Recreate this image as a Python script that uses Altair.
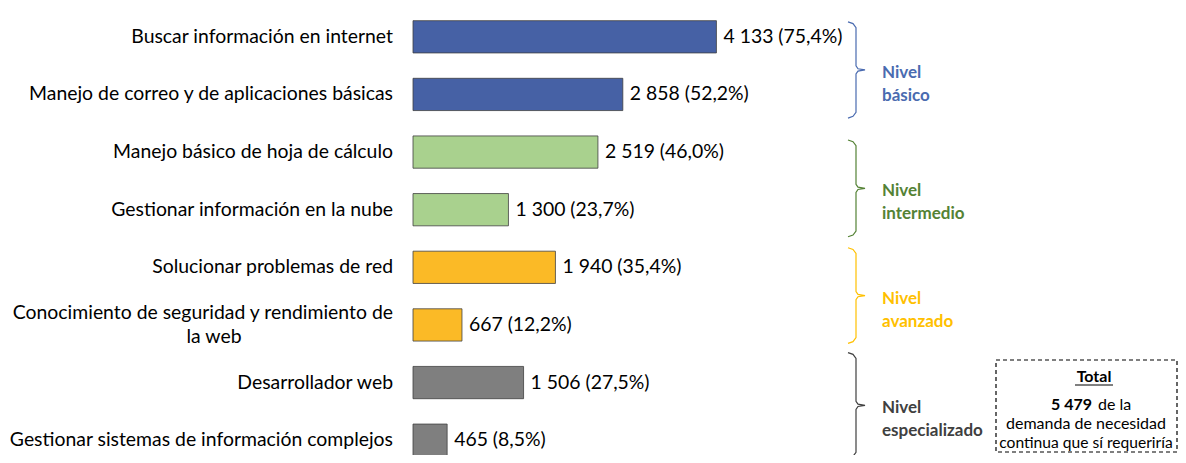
import altair as alt
import pandas as pd

# ---------------- data ----------------
categories = [
    "Buscar información en internet",
    "Manejo de correo y de aplicaciones básicas",
    "Manejo básico de hoja de cálculo",
    "Gestionar información en la nube",
    "Solucionar problemas de red",
    "Conocimiento de seguridad y rendimiento de la web",
    "Desarrollador web",
    "Gestionar sistemas de información complejos",
]
label_lines = [
    ["Buscar información en internet"],
    ["Manejo de correo y de aplicaciones básicas"],
    ["Manejo básico de hoja de cálculo"],
    ["Gestionar información en la nube"],
    ["Solucionar problemas de red"],
    ["Conocimiento de seguridad y rendimiento de", "la web"],
    ["Desarrollador web"],
    ["Gestionar sistemas de información complejos"],
]
values = [4133, 2858, 2519, 1300, 1940, 667, 1506, 465]
percents = [75.4, 52.2, 46.0, 23.7, 35.4, 12.2, 27.5, 8.5]
levels = ["básico", "básico", "intermedio", "intermedio",
          "avanzado", "avanzado", "especializado", "especializado"]

level_order = ["básico", "intermedio", "avanzado", "especializado"]
level_titles = ["Nivel\nbásico", "Nivel\nintermedio", "Nivel\navanzado", "Nivel\nespecializado"]
bar_colors = ["#4661A5", "#A9D18E", "#FBBA26", "#7F7F7F"]
text_colors = ["#4A6BB0", "#548235", "#FFC000", "#595959"]
brace_colors = ["#4A6BB0", "#548235", "#FFC000", "#404040"]
# brace extents, in row units (row i spans [i, i+1])
brace_top = [0.24, 2.29, 4.16, 5.98]
brace_bottom = [1.91, 3.97, 5.82, 7.81]

total = 5479
total_lines = ["de la", "demanda de necesidad", "continua que sí requeriría"]

FONT = "Lato"
FS = 19.4
W = 765
H = 447
YR = 461


def fmt_num(v):
    return f"{v:,}".replace(",", " ")


df = pd.DataFrame({
    "cat": categories,
    "value": values,
    "level": levels,
    "label": [f"{fmt_num(v)} ({p:.1f}%)".replace(".", ",") for v, p in zip(values, percents)],
})

ysc = alt.Scale(domain=categories, range=[0, YR], padding=0)
y_axis = alt.Y("cat:N", sort=categories, scale=ysc, title=None,
               axis=alt.Axis(labels=False, tickBand="extent", domainColor="black",
                             tickColor="black", tickSize=6, domainWidth=1, tickWidth=1,
                             grid=False))
y_noaxis = alt.Y("cat:N", sort=categories, scale=ysc, axis=None)
xsc = alt.Scale(domain=[0, 10420])

bars = alt.Chart(df).mark_bar(
    height=alt.RelativeBandSize(band=0.56), stroke="#404040", strokeWidth=0.8
).encode(
    y=y_axis,
    x=alt.X("value:Q", scale=xsc, axis=None),
    color=alt.Color("level:N", scale=alt.Scale(domain=level_order, range=bar_colors), legend=None),
)

vals = alt.Chart(df).mark_text(
    align="left", baseline="middle", dx=7, font=FONT, fontSize=FS, color="black"
).encode(y=y_noaxis, x=alt.X("value:Q", scale=xsc, axis=None), text="label:N")

single = pd.DataFrame({"cat": [c for c, l in zip(categories, label_lines) if len(l) == 1],
                       "txt": [l[0] for l in label_lines if len(l) == 1]})
multi = [(c, l) for c, l in zip(categories, label_lines) if len(l) > 1]
multi_df = pd.DataFrame({"cat": [m[0] for m in multi],
                         "l1": [m[1][0] for m in multi],
                         "l2": [m[1][1] for m in multi]})

cat_single = alt.Chart(single).mark_text(
    align="right", baseline="middle", font=FONT, fontSize=FS, color="black"
).encode(y=y_noaxis, x=alt.value(-20), text="txt:N")
cat_l1 = alt.Chart(multi_df).mark_text(
    align="right", baseline="middle", dy=-12, font=FONT, fontSize=FS, color="black"
).encode(y=y_noaxis, x=alt.value(-20), text="l1:N")
cat_l2 = alt.Chart(multi_df).mark_text(
    align="center", baseline="middle", dy=12, font=FONT, fontSize=FS, color="black"
).encode(y=y_noaxis, x=alt.value(-199), text="l2:N")

main = alt.layer(bars, vals, cat_single, cat_l1, cat_l2)

# ---------------- braces ----------------
bx0 = 435
dxs = [0, 5, 8, 8, 10, 17, 10, 8, 8, 5, 0]
rows = []
for g, t, b in zip(level_order, brace_top, brace_bottom):
    m = (t + b) / 2
    ys = [t, t + 0.03, t + 0.1, m - 0.07, m - 0.02, m, m + 0.02, m + 0.07, b - 0.1, b - 0.03, b]
    for i, (dx, yy) in enumerate(zip(dxs, ys)):
        rows.append({"grp": g, "ord": i, "bx": bx0 + dx, "by": yy})
brace_df = pd.DataFrame(rows)
brace_lab = pd.DataFrame({"grp": level_order, "txt": level_titles,
                          "mid": [(t + b) / 2 for t, b in zip(brace_top, brace_bottom)]})

rowsc = alt.Scale(domain=[0, 8], range=[0, YR])
pxsc = alt.Scale(domain=[0, W], range=[0, W])

brace_lines = alt.Chart(brace_df).mark_line(strokeWidth=1.2).encode(
    x=alt.X("bx:Q", scale=pxsc, axis=None),
    y=alt.Y("by:Q", scale=rowsc, axis=None),
    color=alt.Color("grp:N", scale=alt.Scale(domain=level_order, range=brace_colors), legend=None),
    detail="grp:N",
    order="ord:Q",
)
brace_text = alt.Chart(brace_lab).mark_text(
    align="left", baseline="middle", lineBreak="\n", lineHeight=23, dy=3,
    font=FONT, fontSize=17, fontWeight="bold"
).encode(
    x=alt.value(469),
    y=alt.Y("mid:Q", scale=rowsc, axis=None),
    text="txt:N",
    color=alt.Color("grp:N", scale=alt.Scale(domain=level_order, range=text_colors), legend=None),
)

one = pd.DataFrame({"a": [0]})
BF = 16
box = alt.Chart(one).mark_rect(
    fill="white", stroke="black", strokeDash=[4, 3], strokeWidth=1.2
).encode(x=alt.value(583), x2=alt.value(764), y=alt.value(352), y2=alt.value(444))
t_total = alt.Chart(one).mark_text(
    align="center", baseline="alphabetic", font=FONT, fontSize=BF, fontWeight="bold", color="black"
).encode(x=alt.value(681), y=alt.value(374), text=alt.value("Total"))
t_under = alt.Chart(one).mark_rule(color="black", strokeWidth=1).encode(
    x=alt.value(662), x2=alt.value(700), y=alt.value(377))
t_num = alt.Chart(one).mark_text(
    align="right", baseline="alphabetic", font=FONT, fontSize=BF, fontWeight="bold", color="black"
).encode(x=alt.value(679), y=alt.value(402), text=alt.value(fmt_num(total)))
t_l1 = alt.Chart(one).mark_text(
    align="left", baseline="alphabetic", font=FONT, fontSize=BF, color="black"
).encode(x=alt.value(685), y=alt.value(402), text=alt.value(total_lines[0]))
t_l2 = alt.Chart(one).mark_text(
    align="center", baseline="alphabetic", font=FONT, fontSize=BF, color="black"
).encode(x=alt.value(673), y=alt.value(421), text=alt.value(total_lines[1]))
t_l3 = alt.Chart(one).mark_text(
    align="center", baseline="alphabetic", font=FONT, fontSize=15.6, color="black"
).encode(x=alt.value(673), y=alt.value(440), text=alt.value(total_lines[2]))

ann = alt.layer(brace_lines, brace_text, box, t_under, t_total, t_num, t_l1, t_l2, t_l3)

chart = alt.layer(main, ann).resolve_scale(
    x="independent", y="independent", color="independent"
).properties(
    width=W, height=H,
    autosize=alt.AutoSizeParams(type="none"),
    padding={"left": 405, "top": 0, "right": 0, "bottom": 0},
).configure_view(stroke=None)

chart.save("out.html", embed_options={"renderer": "svg", "actions": False})
